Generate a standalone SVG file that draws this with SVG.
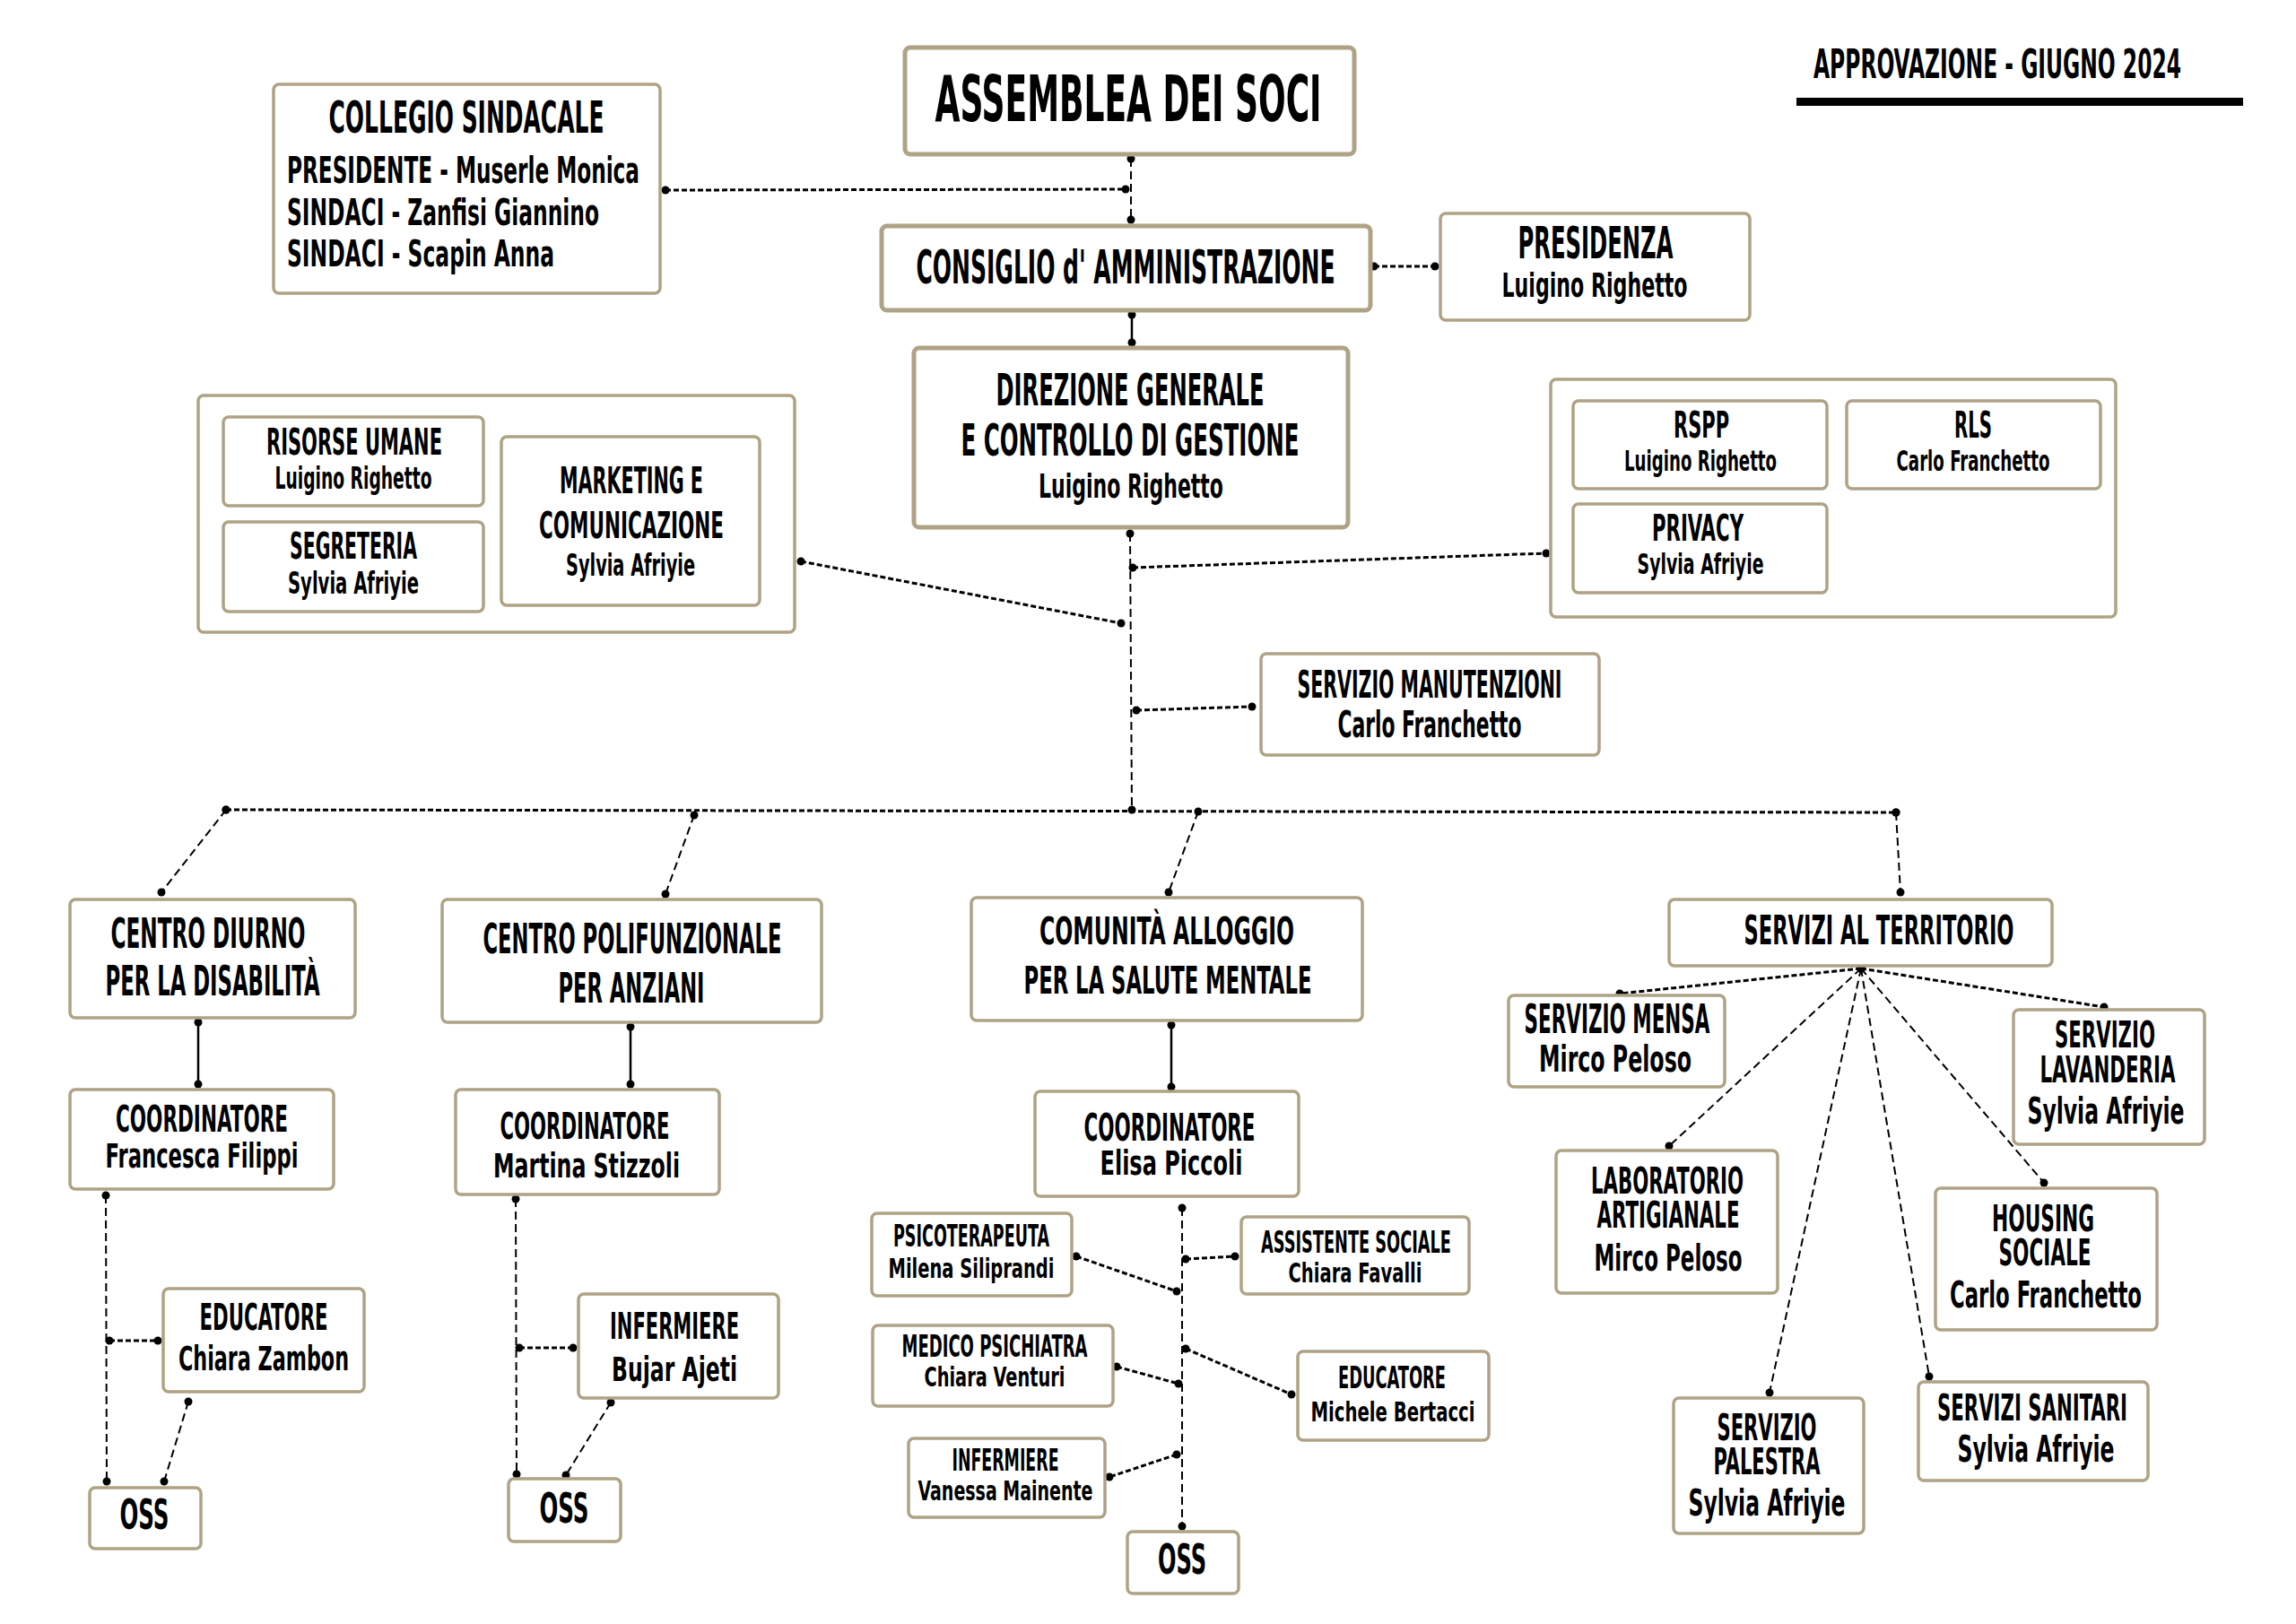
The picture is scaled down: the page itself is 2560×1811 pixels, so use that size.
<svg xmlns="http://www.w3.org/2000/svg" width="2560" height="1811" viewBox="0 0 2560 1811">
<style>
.b{fill:#fff;stroke:#afa385;stroke-width:3.5}
.bk{fill:#fff;stroke:#afa385;stroke-width:5}
.t{font-family:"DejaVu Sans Condensed","DejaVu Sans",sans-serif;font-weight:bold;fill:#000;text-anchor:middle}
.n{font-family:"DejaVu Sans Condensed","DejaVu Sans",sans-serif;font-weight:bold;fill:#000;text-anchor:middle}
.d{fill:none;stroke:#000;stroke-width:3;stroke-dasharray:6 3;marker-start:url(#dot);marker-end:url(#dot)}
.l{fill:none;stroke:#000;stroke-width:2;stroke-dasharray:9 5;marker-start:url(#dot);marker-end:url(#dot)}
.s{fill:none;stroke:#000;stroke-width:2.5;marker-start:url(#dot);marker-end:url(#dot)}
</style>
<defs>
<marker id="dot" markerUnits="userSpaceOnUse" markerWidth="12" markerHeight="12" refX="6" refY="6" viewBox="0 0 12 12"><circle cx="6" cy="6" r="4.5" fill="#000"/></marker>
</defs>
<rect width="2560" height="1811" fill="#fff"/>

<g id="header">
<text x="2432" y="87" font-size="44" class="t" style="text-anchor:end" textLength="410" lengthAdjust="spacingAndGlyphs">APPROVAZIONE - GIUGNO 2024</text>
<rect x="2003" y="109" width="498" height="9" fill="#000"/>
</g>

<g id="connectors">
<line class="d" x1="742" y1="212" x2="1255" y2="211"/>
<line class="l" x1="1261" y1="177" x2="1261" y2="245"/>
<line class="d" x1="1532" y1="297" x2="1600" y2="297"/>
<line class="s" x1="1262" y1="351" x2="1262" y2="382"/>
<line class="l" x1="1260" y1="595" x2="1262" y2="903" style="marker-end:none"/>
<line class="d" x1="893" y1="626" x2="1250" y2="695"/>
<line class="d" x1="1263" y1="633" x2="1724" y2="617"/>
<line class="d" x1="1267" y1="792" x2="1396" y2="788"/>
<line class="d" x1="252" y1="903" x2="2114" y2="906"/>
<circle cx="1262" cy="903" r="4.5"/>
<line class="l" x1="252" y1="903" x2="180" y2="995"/>
<line class="l" x1="774" y1="909" x2="742" y2="997"/>
<line class="l" x1="1336" y1="905" x2="1303" y2="995"/>
<line class="l" x1="2114" y1="906" x2="2119" y2="995"/>
<line class="s" x1="221" y1="1140" x2="221" y2="1209"/>
<line class="s" x1="703" y1="1145" x2="703" y2="1209"/>
<line class="s" x1="1306" y1="1143" x2="1306" y2="1212"/>
<line class="l" x1="118" y1="1333" x2="119" y2="1652"/>
<line class="d" x1="122" y1="1495" x2="176" y2="1495"/>
<line class="l" x1="210" y1="1563" x2="183" y2="1652"/>
<line class="l" x1="575" y1="1337" x2="576" y2="1644"/>
<line class="d" x1="579" y1="1503" x2="639" y2="1503"/>
<line class="l" x1="681" y1="1564" x2="631" y2="1645"/>
<line class="l" x1="1318" y1="1347" x2="1318" y2="1702"/>
<line class="d" x1="1200" y1="1401" x2="1312" y2="1440"/>
<line class="d" x1="1322" y1="1404" x2="1377" y2="1401"/>
<line class="d" x1="1245" y1="1524" x2="1314" y2="1543"/>
<line class="d" x1="1322" y1="1504" x2="1440" y2="1555"/>
<line class="d" x1="1312" y1="1622" x2="1237" y2="1647"/>
<line class="d" x1="2075" y1="1080" x2="1806" y2="1108"/>
<line class="d" x1="2075" y1="1080" x2="2346" y2="1123"/>
<line class="l" x1="2075" y1="1080" x2="1861" y2="1278"/>
<line class="l" x1="2075" y1="1080" x2="1973" y2="1553"/>
<line class="l" x1="2075" y1="1080" x2="2151" y2="1535"/>
<line class="l" x1="2075" y1="1080" x2="2279" y2="1319"/>
</g>

<g id="assemblea">
<rect class="bk" x="1009" y="53" width="501" height="119" rx="6"/>
<text x="1258" y="135" font-size="72" class="t" textLength="431" lengthAdjust="spacingAndGlyphs">ASSEMBLEA DEI SOCI</text>
</g>
<g id="collegio">
<rect class="b" x="305" y="94" width="431" height="233" rx="6"/>
<text x="520" y="148" font-size="49" class="t" textLength="307" lengthAdjust="spacingAndGlyphs">COLLEGIO SINDACALE</text>
<text x="320" y="204" font-size="40" class="n" style="text-anchor:start" textLength="393" lengthAdjust="spacingAndGlyphs">PRESIDENTE - Muserle Monica</text>
<text x="320" y="251" font-size="40" class="n" style="text-anchor:start" textLength="348" lengthAdjust="spacingAndGlyphs">SINDACI - Zanfisi Giannino</text>
<text x="320" y="297" font-size="40" class="n" style="text-anchor:start" textLength="298" lengthAdjust="spacingAndGlyphs">SINDACI - Scapin Anna</text>
</g>
<g id="consiglio">
<rect class="bk" x="983" y="252" width="545" height="94" rx="6"/>
<text x="1255" y="316" font-size="52" class="t" textLength="467" lengthAdjust="spacingAndGlyphs">CONSIGLIO d' AMMINISTRAZIONE</text>
</g>
<g id="presidenza">
<rect class="b" x="1606" y="238" width="345" height="119" rx="6"/>
<text x="1779" y="288" font-size="49" class="t" textLength="173" lengthAdjust="spacingAndGlyphs">PRESIDENZA</text>
<text x="1778" y="331" font-size="38" class="n" textLength="207" lengthAdjust="spacingAndGlyphs">Luigino Righetto</text>
</g>
<g id="direzione">
<rect class="bk" x="1019" y="388" width="484" height="200" rx="6"/>
<text x="1260" y="452" font-size="50" class="t" textLength="299" lengthAdjust="spacingAndGlyphs">DIREZIONE GENERALE</text>
<text x="1260" y="508" font-size="50" class="t" textLength="377" lengthAdjust="spacingAndGlyphs">E CONTROLLO DI GESTIONE</text>
<text x="1261" y="555" font-size="38" class="n" textLength="206" lengthAdjust="spacingAndGlyphs">Luigino Righetto</text>
</g>

<g id="staff-sinistra">
<rect class="b" x="221" y="441" width="665" height="264" rx="6"/>
<g id="risorse-umane">
<rect class="b" x="249" y="465" width="290" height="99" rx="6"/>
<text x="395" y="507" font-size="41" class="t" textLength="196" lengthAdjust="spacingAndGlyphs">RISORSE UMANE</text>
<text x="394" y="545" font-size="33" class="n" textLength="175" lengthAdjust="spacingAndGlyphs">Luigino Righetto</text>
</g>
<g id="segreteria">
<rect class="b" x="249" y="582" width="290" height="100" rx="6"/>
<text x="394" y="623" font-size="41" class="t" textLength="142" lengthAdjust="spacingAndGlyphs">SEGRETERIA</text>
<text x="394" y="662" font-size="33" class="n" textLength="146" lengthAdjust="spacingAndGlyphs">Sylvia Afriyie</text>
</g>
<g id="marketing">
<rect class="b" x="559" y="487" width="288" height="188" rx="6"/>
<text x="704" y="550" font-size="41" class="t" textLength="160" lengthAdjust="spacingAndGlyphs">MARKETING E</text>
<text x="704" y="600" font-size="41" class="t" textLength="206" lengthAdjust="spacingAndGlyphs">COMUNICAZIONE</text>
<text x="703" y="642" font-size="33" class="n" textLength="144" lengthAdjust="spacingAndGlyphs">Sylvia Afriyie</text>
</g>
</g>

<g id="staff-destra">
<rect class="b" x="1729" y="423" width="630" height="265" rx="6"/>
<g id="rspp">
<rect class="b" x="1754" y="447" width="283" height="98" rx="6"/>
<text x="1897" y="488" font-size="41" class="t" textLength="62" lengthAdjust="spacingAndGlyphs">RSPP</text>
<text x="1896" y="525" font-size="32" class="n" textLength="170" lengthAdjust="spacingAndGlyphs">Luigino Righetto</text>
</g>
<g id="rls">
<rect class="b" x="2059" y="447" width="283" height="98" rx="6"/>
<text x="2200" y="488" font-size="41" class="t" textLength="42" lengthAdjust="spacingAndGlyphs">RLS</text>
<text x="2200" y="525" font-size="32" class="n" textLength="171" lengthAdjust="spacingAndGlyphs">Carlo Franchetto</text>
</g>
<g id="privacy">
<rect class="b" x="1754" y="562" width="283" height="99" rx="6"/>
<text x="1893" y="603" font-size="41" class="t" textLength="102" lengthAdjust="spacingAndGlyphs">PRIVACY</text>
<text x="1896" y="640" font-size="32" class="n" textLength="141" lengthAdjust="spacingAndGlyphs">Sylvia Afriyie</text>
</g>
</g>

<g id="manutenzioni">
<rect class="b" x="1406" y="729" width="377" height="113" rx="6"/>
<text x="1594" y="778" font-size="43" class="t" textLength="295" lengthAdjust="spacingAndGlyphs">SERVIZIO MANUTENZIONI</text>
<text x="1594" y="822" font-size="40" class="n" textLength="205" lengthAdjust="spacingAndGlyphs">Carlo Franchetto</text>
</g>

<g id="centro-diurno">
<rect class="b" x="78" y="1003" width="318" height="132" rx="6"/>
<text x="232" y="1057" font-size="46" class="t" textLength="217" lengthAdjust="spacingAndGlyphs">CENTRO DIURNO</text>
<text x="237" y="1110" font-size="46" class="t" textLength="239" lengthAdjust="spacingAndGlyphs">PER LA DISABILITÀ</text>
</g>
<g id="coord-diurno">
<rect class="b" x="78" y="1215" width="294" height="111" rx="6"/>
<text x="225" y="1262" font-size="41" class="t" textLength="192" lengthAdjust="spacingAndGlyphs">COORDINATORE</text>
<text x="225" y="1302" font-size="37" class="n" textLength="215" lengthAdjust="spacingAndGlyphs">Francesca Filippi</text>
</g>
<g id="educatore-diurno">
<rect class="b" x="182" y="1437" width="224" height="115" rx="6"/>
<text x="294" y="1483" font-size="41" class="t" textLength="143" lengthAdjust="spacingAndGlyphs">EDUCATORE</text>
<text x="294" y="1528" font-size="37" class="n" textLength="190" lengthAdjust="spacingAndGlyphs">Chiara Zambon</text>
</g>
<g id="oss-diurno">
<rect class="b" x="100" y="1659" width="124" height="68" rx="6"/>
<text x="161" y="1705" font-size="46" class="t" textLength="55" lengthAdjust="spacingAndGlyphs">OSS</text>
</g>

<g id="centro-polifunzionale">
<rect class="b" x="493" y="1003" width="423" height="137" rx="6"/>
<text x="705" y="1063" font-size="46" class="t" textLength="333" lengthAdjust="spacingAndGlyphs">CENTRO POLIFUNZIONALE</text>
<text x="704" y="1118" font-size="46" class="t" textLength="163" lengthAdjust="spacingAndGlyphs">PER ANZIANI</text>
</g>
<g id="coord-polifunzionale">
<rect class="b" x="508" y="1215" width="294" height="117" rx="6"/>
<text x="652" y="1270" font-size="41" class="t" textLength="189" lengthAdjust="spacingAndGlyphs">COORDINATORE</text>
<text x="654" y="1313" font-size="37" class="n" textLength="208" lengthAdjust="spacingAndGlyphs">Martina Stizzoli</text>
</g>
<g id="infermiere-polifunzionale">
<rect class="b" x="645" y="1443" width="223" height="116" rx="6"/>
<text x="752" y="1493" font-size="41" class="t" textLength="144" lengthAdjust="spacingAndGlyphs">INFERMIERE</text>
<text x="752" y="1540" font-size="37" class="n" textLength="140" lengthAdjust="spacingAndGlyphs">Bujar Ajeti</text>
</g>
<g id="oss-polifunzionale">
<rect class="b" x="567" y="1649" width="125" height="70" rx="6"/>
<text x="629" y="1698" font-size="46" class="t" textLength="55" lengthAdjust="spacingAndGlyphs">OSS</text>
</g>

<g id="comunita">
<rect class="b" x="1083" y="1001" width="436" height="137" rx="6"/>
<text x="1301" y="1053" font-size="43" class="t" textLength="284" lengthAdjust="spacingAndGlyphs">COMUNITÀ ALLOGGIO</text>
<text x="1302" y="1108" font-size="43" class="t" textLength="321" lengthAdjust="spacingAndGlyphs">PER LA SALUTE MENTALE</text>
</g>
<g id="coord-comunita">
<rect class="b" x="1154" y="1217" width="294" height="117" rx="6"/>
<text x="1304" y="1272" font-size="43" class="t" textLength="191" lengthAdjust="spacingAndGlyphs">COORDINATORE</text>
<text x="1306" y="1310" font-size="37" class="n" textLength="159" lengthAdjust="spacingAndGlyphs">Elisa Piccoli</text>
</g>
<g id="psicoterapeuta">
<rect class="b" x="972" y="1353" width="223" height="92" rx="6"/>
<text x="1083" y="1390" font-size="34" class="t" textLength="174" lengthAdjust="spacingAndGlyphs">PSICOTERAPEUTA</text>
<text x="1083" y="1425" font-size="31" class="n" textLength="185" lengthAdjust="spacingAndGlyphs">Milena Siliprandi</text>
</g>
<g id="assistente-sociale">
<rect class="b" x="1384" y="1357" width="254" height="86" rx="6"/>
<text x="1512" y="1397" font-size="34" class="t" textLength="212" lengthAdjust="spacingAndGlyphs">ASSISTENTE SOCIALE</text>
<text x="1511" y="1430" font-size="31" class="n" textLength="149" lengthAdjust="spacingAndGlyphs">Chiara Favalli</text>
</g>
<g id="medico-psichiatra">
<rect class="b" x="973" y="1478" width="268" height="90" rx="6"/>
<text x="1109" y="1513" font-size="34" class="t" textLength="207" lengthAdjust="spacingAndGlyphs">MEDICO PSICHIATRA</text>
<text x="1109" y="1546" font-size="31" class="n" textLength="157" lengthAdjust="spacingAndGlyphs">Chiara Venturi</text>
</g>
<g id="educatore-comunita">
<rect class="b" x="1447" y="1507" width="213" height="99" rx="6"/>
<text x="1552" y="1548" font-size="34" class="t" textLength="120" lengthAdjust="spacingAndGlyphs">EDUCATORE</text>
<text x="1553" y="1585" font-size="31" class="n" textLength="183" lengthAdjust="spacingAndGlyphs">Michele Bertacci</text>
</g>
<g id="infermiere-comunita">
<rect class="b" x="1013" y="1604" width="219" height="88" rx="6"/>
<text x="1121" y="1640" font-size="34" class="t" textLength="119" lengthAdjust="spacingAndGlyphs">INFERMIERE</text>
<text x="1121" y="1673" font-size="31" class="n" textLength="195" lengthAdjust="spacingAndGlyphs">Vanessa Mainente</text>
</g>
<g id="oss-comunita">
<rect class="b" x="1257" y="1708" width="124" height="69" rx="6"/>
<text x="1318" y="1755" font-size="47" class="t" textLength="54" lengthAdjust="spacingAndGlyphs">OSS</text>
</g>

<g id="servizi-territorio">
<rect class="b" x="1861" y="1003" width="427" height="74" rx="6"/>
<text x="2095" y="1053" font-size="45" class="t" textLength="301" lengthAdjust="spacingAndGlyphs">SERVIZI AL TERRITORIO</text>
</g>
<g id="mensa">
<rect class="b" x="1682" y="1110" width="241" height="102" rx="6"/>
<text x="1803" y="1152" font-size="44" class="t" textLength="207" lengthAdjust="spacingAndGlyphs">SERVIZIO MENSA</text>
<text x="1801" y="1195" font-size="40" class="n" textLength="170" lengthAdjust="spacingAndGlyphs">Mirco Peloso</text>
</g>
<g id="lavanderia">
<rect class="b" x="2245" y="1126" width="213" height="150" rx="6"/>
<text x="2347" y="1168" font-size="41" class="t" textLength="112" lengthAdjust="spacingAndGlyphs">SERVIZIO</text>
<text x="2350" y="1207" font-size="41" class="t" textLength="151" lengthAdjust="spacingAndGlyphs">LAVANDERIA</text>
<text x="2348" y="1253" font-size="40" class="n" textLength="175" lengthAdjust="spacingAndGlyphs">Sylvia Afriyie</text>
</g>
<g id="laboratorio">
<rect class="b" x="1735" y="1283" width="247" height="159" rx="6"/>
<text x="1859" y="1331" font-size="40" class="t" textLength="170" lengthAdjust="spacingAndGlyphs">LABORATORIO</text>
<text x="1860" y="1369" font-size="40" class="t" textLength="159" lengthAdjust="spacingAndGlyphs">ARTIGIANALE</text>
<text x="1860" y="1417" font-size="40" class="n" textLength="165" lengthAdjust="spacingAndGlyphs">Mirco Peloso</text>
</g>
<g id="housing">
<rect class="b" x="2158" y="1325" width="247" height="158" rx="6"/>
<text x="2278" y="1373" font-size="40" class="t" textLength="114" lengthAdjust="spacingAndGlyphs">HOUSING</text>
<text x="2280" y="1411" font-size="40" class="t" textLength="103" lengthAdjust="spacingAndGlyphs">SOCIALE</text>
<text x="2281" y="1458" font-size="40" class="n" textLength="214" lengthAdjust="spacingAndGlyphs">Carlo Franchetto</text>
</g>
<g id="palestra">
<rect class="b" x="1866" y="1559" width="212" height="151" rx="6"/>
<text x="1970" y="1606" font-size="40" class="t" textLength="111" lengthAdjust="spacingAndGlyphs">SERVIZIO</text>
<text x="1970" y="1644" font-size="40" class="t" textLength="119" lengthAdjust="spacingAndGlyphs">PALESTRA</text>
<text x="1970" y="1690" font-size="40" class="n" textLength="175" lengthAdjust="spacingAndGlyphs">Sylvia Afriyie</text>
</g>
<g id="sanitari">
<rect class="b" x="2139" y="1541" width="256" height="110" rx="6"/>
<text x="2266" y="1584" font-size="40" class="t" textLength="212" lengthAdjust="spacingAndGlyphs">SERVIZI SANITARI</text>
<text x="2270" y="1630" font-size="40" class="n" textLength="175" lengthAdjust="spacingAndGlyphs">Sylvia Afriyie</text>
</g>
</svg>
